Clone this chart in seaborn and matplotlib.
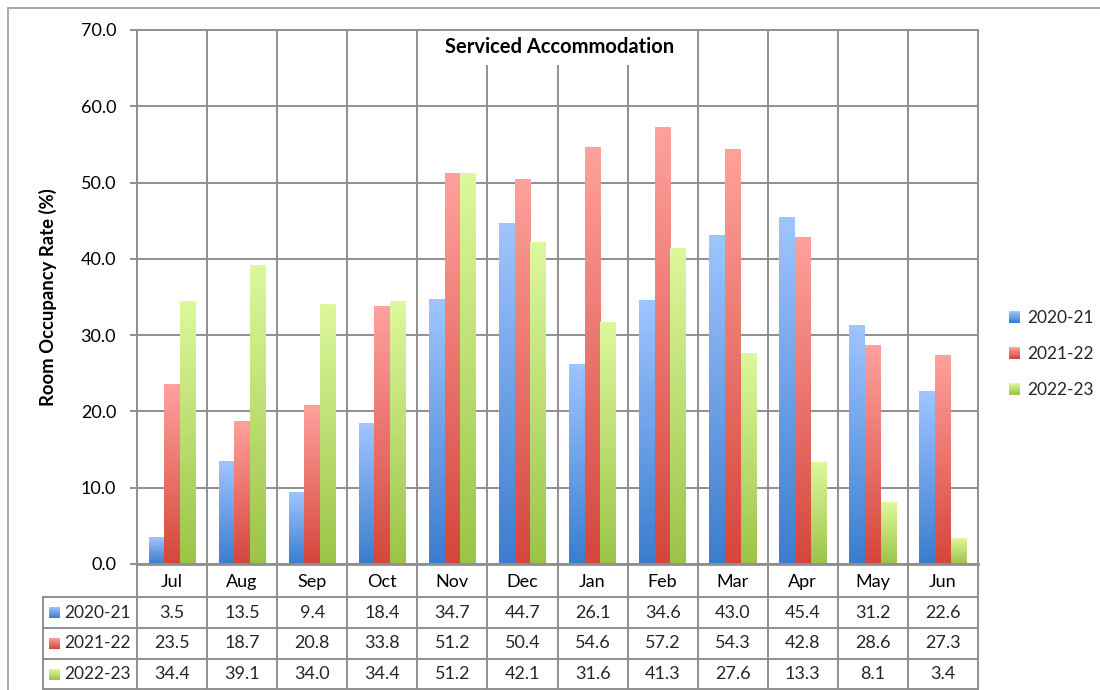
import numpy as np
import pandas as pd
import matplotlib
matplotlib.use("Agg")
import matplotlib.pyplot as plt
import matplotlib.ticker as ticker
from matplotlib.colors import LinearSegmentedColormap
from matplotlib.patches import Rectangle, Patch
from matplotlib.legend_handler import HandlerBase
import seaborn as sns

# Data
months = ["Jul", "Aug", "Sep", "Oct", "Nov", "Dec", "Jan", "Feb", "Mar", "Apr", "May", "Jun"]
series = ["2020-21", "2021-22", "2022-23"]
rate_2020_21 = [3.5, 13.5, 9.4, 18.4, 34.7, 44.7, 26.1, 34.6, 43.0, 45.4, 31.2, 22.6]
rate_2021_22 = [23.5, 18.7, 20.8, 33.8, 51.2, 50.4, 54.6, 57.2, 54.3, 42.8, 28.6, 27.3]
rate_2022_23 = [34.4, 39.1, 34.0, 34.4, 51.2, 42.1, 31.6, 41.3, 27.6, 13.3, 8.1, 3.4]
values = [rate_2020_21, rate_2021_22, rate_2022_23]

# gradient colours (bottom, top) in Excel style
grad_colors = {
    "2020-21": ("#3b7dcd", "#9fc5ff"),
    "2021-22": ("#d4463b", "#ffa19c"),
    "2022-23": ("#9bc447", "#ddf89d"),
}
mid_colors = {"2020-21": "#6ea2ea", "2021-22": "#ea7068", "2022-23": "#bcdf72"}
cmaps = {s: LinearSegmentedColormap.from_list(s, grad_colors[s]) for s in series}

df = pd.DataFrame({
    "Month": np.tile(months, len(series)),
    "Year": np.repeat(series, len(months)),
    "Rate": np.concatenate(values),
})

sns.set_theme(style="white")
plt.rcParams["font.family"] = ["Lato", "DejaVu Sans"]


class GradHandler(HandlerBase):
    """Legend key drawn as a small vertical gradient square."""
    def __init__(self, cmap, n=14):
        super().__init__()
        self.cmap = cmap
        self.n = n

    def create_artists(self, legend, orig_handle, xdescent, ydescent, width, height,
                       fontsize, trans):
        arts = []
        for k in range(self.n):
            arts.append(Rectangle((-xdescent, -ydescent + k * height / self.n), width,
                                  height / self.n * 1.05, facecolor=self.cmap(k / (self.n - 1)),
                                  edgecolor="none", transform=trans))
        return arts


W, H = 1100, 690
fig = plt.figure(figsize=(11, 6.9), dpi=100)
L, R, T, B = 137, 978, 30, 564
ax = fig.add_axes([L / W, 1 - B / H, (R - L) / W, (B - T) / H])

sns.barplot(data=df, x="Month", y="Rate", hue="Year", order=months, hue_order=series,
            palette=mid_colors, width=0.67, saturation=1, errorbar=None, ax=ax)

# replace flat fill with vertical gradient per bar
grad = np.linspace(0, 1, 256).reshape(-1, 1)
for cont, name in zip(ax.containers, series):
    for bar in cont:
        x, w, h = bar.get_x(), bar.get_width(), bar.get_height()
        bar.set_facecolor("none")
        bar.set_edgecolor("none")
        ax.imshow(grad, extent=(x, x + w, 0, h), origin="lower", cmap=cmaps[name],
                  aspect="auto", zorder=2, interpolation="bilinear")

ax.set_xlim(-0.5, len(months) - 0.5)
ax.set_ylim(0, 70)
ax.set_yticks(np.arange(0, 71, 10))
ax.yaxis.set_major_formatter(ticker.FormatStrFormatter("%.1f"))
ax.set_xticks(np.arange(-0.5, len(months), 1), minor=True)

grid_c = "#8f8f8f"
ax.set_axisbelow(True)
ax.grid(axis="y", which="major", color=grid_c, lw=1.4)
ax.grid(axis="x", which="minor", color=grid_c, lw=1.4)
ax.grid(axis="x", which="major", visible=False)
for s in ax.spines.values():
    s.set_color(grid_c)
    s.set_linewidth(1.4)
    s.set_zorder(6)
ax.spines["bottom"].set_linewidth(2)

ax.tick_params(axis="y", which="major", left=True, length=5, width=1.4, color=grid_c,
               pad=10, labelsize=13, labelcolor="black")
ax.tick_params(axis="x", which="both", length=0, pad=7, labelsize=13, labelcolor="black")

ax.set_xlabel("")
ax.set_ylabel("Room Occupancy Rate (%)", fontsize=13.3, fontweight="bold", color="black")
ax.yaxis.set_label_coords(-(L - 57) / (R - L), 0.5)

ax.text((560 - L) / (R - L), (B - 47) / (B - T), "Serviced Accommodation",
        transform=ax.transAxes, ha="center", va="center", fontsize=14.5, fontweight="bold",
        color="black", zorder=5,
        bbox=dict(facecolor="white", edgecolor="none", pad=6))

# legend with gradient keys
ax.legend_.remove()
handles = [Patch(facecolor=mid_colors[s], edgecolor="none", label=s) for s in series]
fig.legend(handles=handles, handler_map={h: GradHandler(cmaps[s]) for h, s in zip(handles, series)},
           loc="center left", bbox_to_anchor=(993 / W, 1 - 354 / H),
           frameon=False, fontsize=12.5, handlelength=0.65, handleheight=0.7,
           handletextpad=0.4, labelspacing=1.15)

# data table below the plot
px_per_cat = (R - L) / len(months)
def xd(px):
    return (px - L) / px_per_cat - 0.5
def ya(py):
    return (B - py) / (B - T)

tr = ax.get_xaxis_transform()
row_lines = [597, 628, 659, 689]
tab_left = 43
for py in row_lines:
    ax.plot([xd(tab_left), len(months) - 0.5], [ya(py)] * 2, color=grid_c, lw=1.4,
            transform=tr, clip_on=False, solid_capstyle="projecting")
ax.plot([xd(tab_left)] * 2, [ya(597), ya(689)], color=grid_c, lw=1.4,
        transform=tr, clip_on=False)
for xb in np.arange(-0.5, len(months), 1):
    ax.plot([xb, xb], [0, ya(689)], color=grid_c, lw=1.4, transform=tr, clip_on=False)

row_centers = [612.5, 643.5, 674]
sq = 11
for name, vals, yc in zip(series, values, row_centers):
    ax.imshow(grad, extent=(xd(49), xd(49 + sq), ya(yc + sq / 2), ya(yc - sq / 2)),
              origin="lower", cmap=cmaps[name], aspect="auto", transform=tr, clip_on=False,
              zorder=3)
    ax.text(xd(64), ya(yc), name, transform=tr, ha="left", va="center", fontsize=12.5)
    for i, v in enumerate(vals):
        ax.text(i, ya(yc), f"{v:.1f}", transform=tr, ha="center", va="center", fontsize=13)

ax.set_xlim(-0.5, len(months) - 0.5)
ax.set_ylim(0, 70)

# outer chart border
fig.patches.append(Rectangle((8 / W, -0.05), 1.2, 1 - 8 / H + 0.05, transform=fig.transFigure,
                             fill=False, edgecolor="#a8a8a8", lw=1.4))

fig.savefig("out.png", dpi=100)
